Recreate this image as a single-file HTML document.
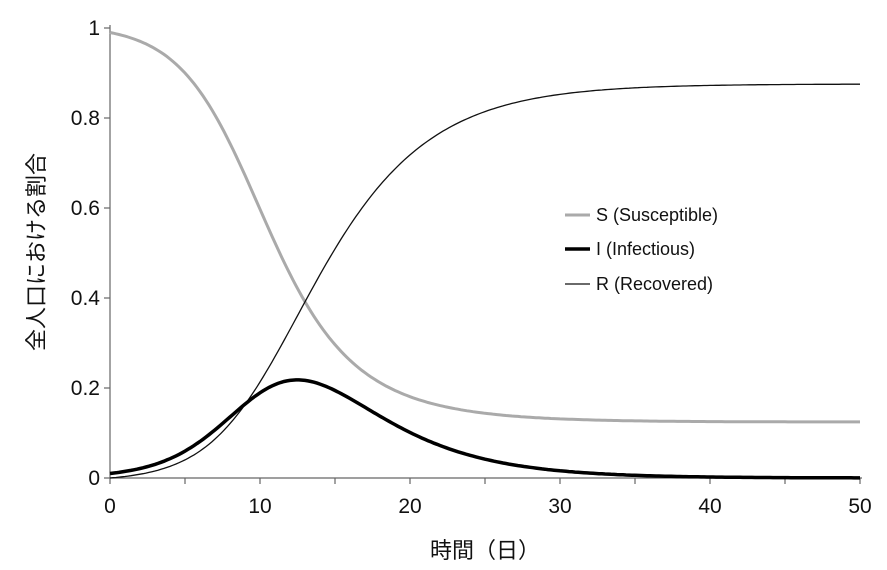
<!DOCTYPE html>
<html><head><meta charset="utf-8"><style>
html,body{margin:0;padding:0;background:#fff;}
svg{display:block;font-family:"Liberation Sans","Noto Sans CJK JP",sans-serif;}
</style></head><body>
<svg id="s" width="887" height="570" viewBox="0 0 887 570">
<g stroke="#666" stroke-width="1.2" fill="none">
<line x1="110" y1="25" x2="110" y2="478"/>
<line x1="110" y1="478" x2="862" y2="478"/>
</g>
<g id="ticks" stroke="#666" stroke-width="1.2"></g>
<g font-size="21" fill="#111" text-anchor="end">
<text x="100" y="485">0</text>
<text x="100" y="395">0.2</text>
<text x="100" y="305">0.4</text>
<text x="100" y="215">0.6</text>
<text x="100" y="125">0.8</text>
<text x="100" y="35">1</text>
</g>
<g font-size="21" fill="#111" text-anchor="middle">
<text x="110" y="513">0</text>
<text x="260" y="513">10</text>
<text x="410" y="513">20</text>
<text x="560" y="513">30</text>
<text x="710" y="513">40</text>
<text x="860" y="513">50</text>
</g>
<text x="485" y="558" font-size="22" text-anchor="middle" fill="#111">時間（日）</text>
<text transform="translate(44,252) rotate(-90)" font-size="22" text-anchor="middle" fill="#111">全人口における割合</text>
<path id="pS" fill="none" stroke="#aaa" stroke-width="3"/>
<path id="pR" fill="none" stroke="#111" stroke-width="1.3"/>
<path id="pI" fill="none" stroke="#000" stroke-width="3.5"/>
<g font-size="18" fill="#111">
<line x1="565" y1="215" x2="590" y2="215" stroke="#aaa" stroke-width="3"/>
<text x="596" y="221">S (Susceptible)</text>
<line x1="565" y1="249" x2="590" y2="249" stroke="#000" stroke-width="3.5"/>
<text x="596" y="255">I (Infectious)</text>
<line x1="565" y1="284" x2="590" y2="284" stroke="#111" stroke-width="1.3"/>
<text x="596" y="290">R (Recovered)</text>
</g>
</svg>
<script>
var t=document.getElementById('ticks'),h='';
for(var i=0;i<=10;i++){var x=110+75*i;h+='<line x1="'+x+'" y1="478" x2="'+x+'" y2="484"/>';}
for(var j=0;j<=5;j++){var y=478-90*j;h+='<line x1="104" y1="'+y+'" x2="110" y2="'+y+'"/>';}
t.innerHTML=h;
var b=0.67,g=0.283,S=0.99,I=0.01,R=0.0,dt=0.01,ps='',pi='',pr='';
function X(tt){return (110+tt*15).toFixed(1);}function Y(v){return (478-v*450).toFixed(1);}
for(var k=0;k<=5000;k++){var tt=k*dt;
 if(k%20==0){var c=k==0?'M':'L';ps+=c+X(tt)+','+Y(S);pi+=c+X(tt)+','+Y(I);pr+=c+X(tt)+','+Y(R);}
 var dS=-b*S*I,dR=g*I;S+=dS*dt;R+=dR*dt;I+=(-dS-dR)*dt;}
document.getElementById('pS').setAttribute('d',ps);
document.getElementById('pI').setAttribute('d',pi);
document.getElementById('pR').setAttribute('d',pr);
</script>
</body></html>
